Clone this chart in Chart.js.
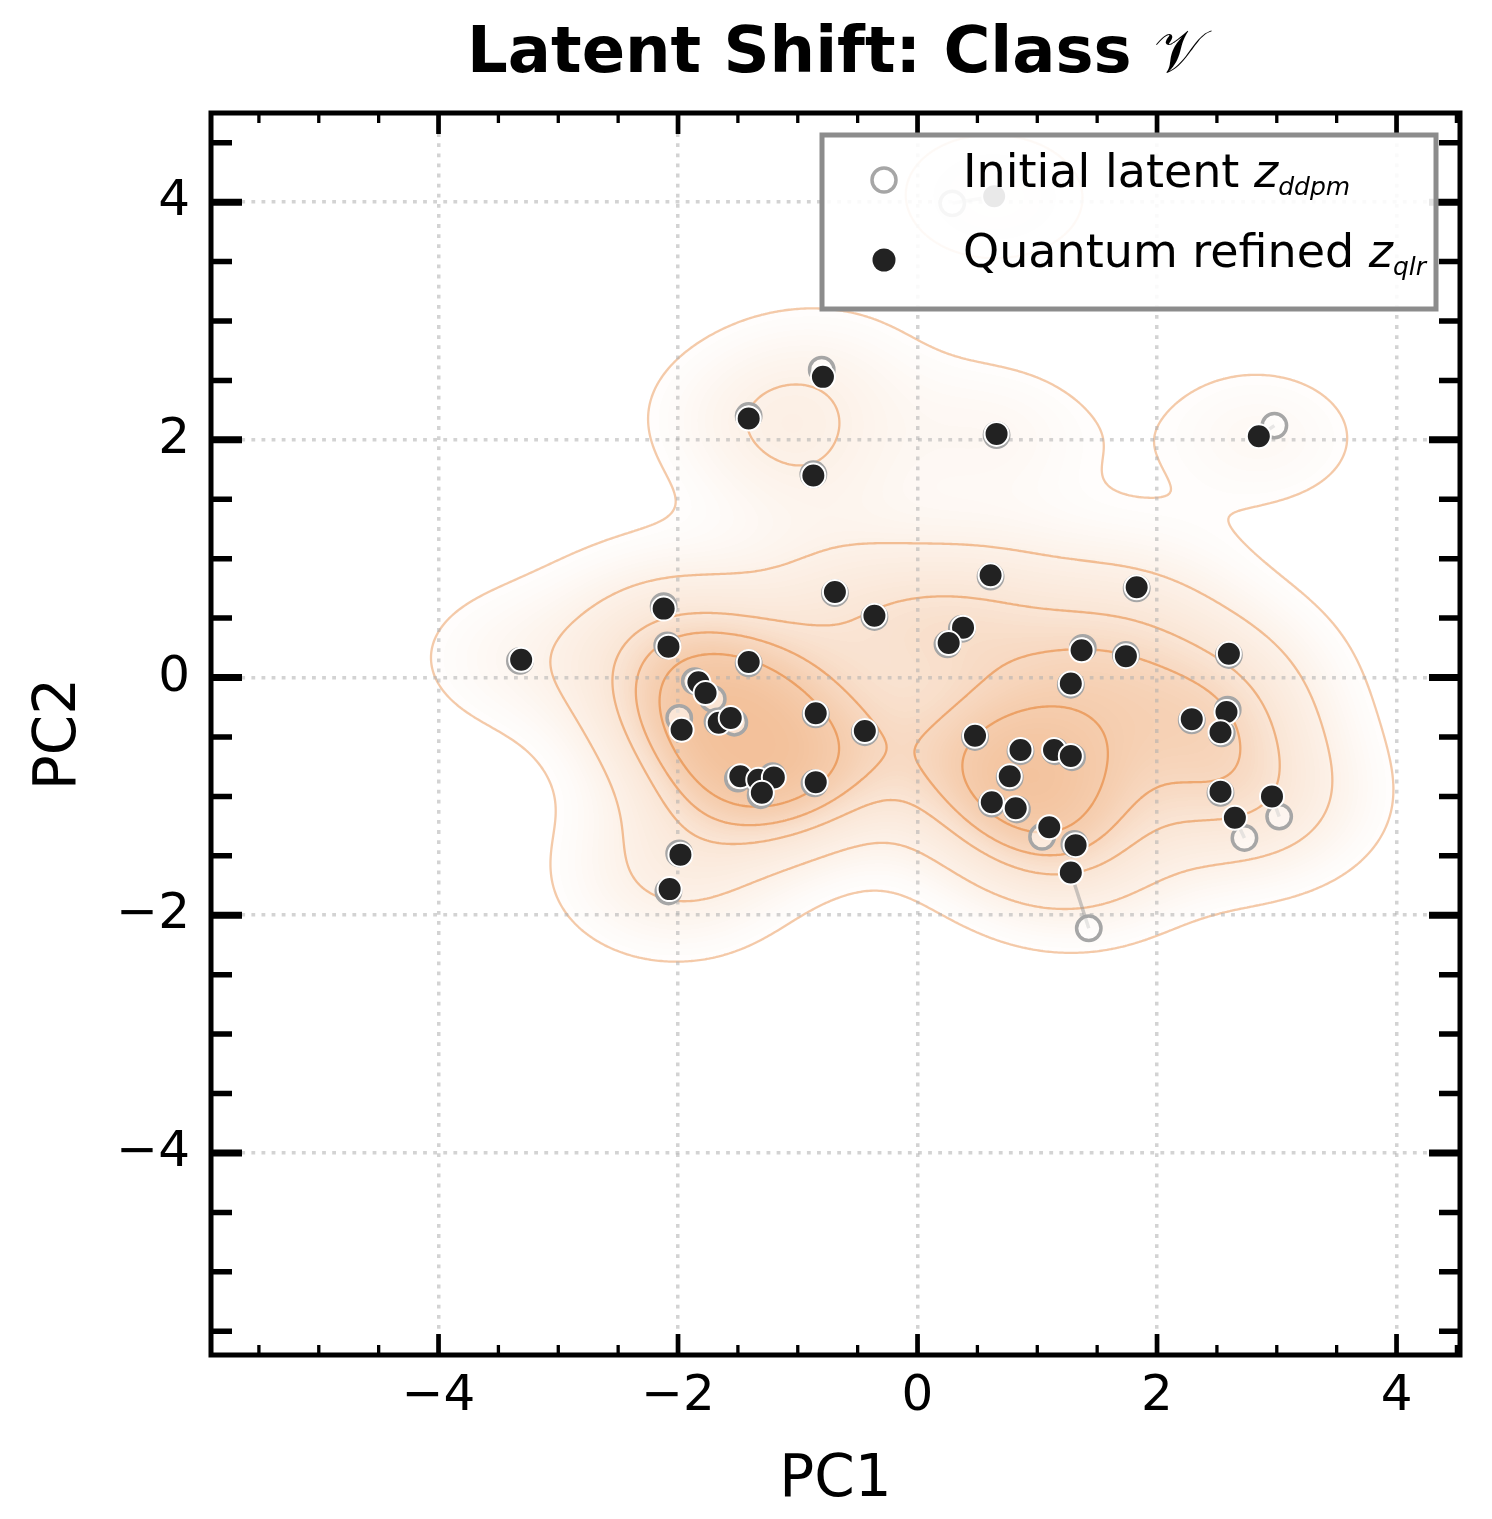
<!DOCTYPE html>
<html>
<head>
<meta charset="utf-8">
<script src="https://cdn.jsdelivr.net/npm/chart.js@4.4.1/dist/chart.umd.min.js"></script>
<style>
  html, body { margin: 0; padding: 0; background: #fff; }
  #wrap { width: 1492px; height: 1519px; position: relative; }
</style>
</head>
<body>
<div id="wrap"><canvas id="chart-shift"></canvas></div>
<script>
// initial latent (z_ddpm) and quantum refined (z_qlr) points, PC1 / PC2
const initX = [-3.32, -2.12, -2.09, -1.86, -1.71, -1.99, -1.67, -1.53, -1.41, -1.50,
               -1.33, -1.21, -1.31, -0.85, -0.86, -0.69, -0.36, -0.44, -1.41, -0.80,
               -0.87, -1.99, -2.08,  0.66,  2.98,  0.61,  0.37,  0.25,  1.38,  1.74,
                1.83,  1.28,  0.48,  0.86,  1.15,  1.29,  0.77,  0.62,  0.83,  1.04,
                1.31,  1.43,  2.29,  2.59,  2.54,  2.60,  2.53,  2.73,  3.02,  0.29];
const initY = [ 0.14,  0.60,  0.27, -0.03, -0.18, -0.34, -0.37, -0.38,  0.12, -0.85,
               -0.87, -0.83, -0.99, -0.31, -0.89,  0.71,  0.51, -0.46,  2.20,  2.59,
                1.71, -1.48, -1.80,  2.04,  2.12,  0.85,  0.41,  0.28,  0.25,  0.19,
                0.75, -0.06, -0.50, -0.62, -0.62, -0.67, -0.84, -1.06, -1.11, -1.34,
               -1.40, -2.11, -0.36, -0.27, -0.47,  0.19, -0.97, -1.35, -1.17,  3.99];
const refX  = [-3.31, -2.12, -2.08, -1.83, -1.77, -1.97, -1.66, -1.56, -1.41, -1.48,
               -1.33, -1.20, -1.30, -0.85, -0.85, -0.69, -0.36, -0.44, -1.41, -0.79,
               -0.87, -1.98, -2.07,  0.66,  2.85,  0.61,  0.38,  0.26,  1.37,  1.74,
                1.83,  1.28,  0.48,  0.86,  1.14,  1.28,  0.77,  0.62,  0.82,  1.10,
                1.32,  1.28,  2.29,  2.58,  2.53,  2.60,  2.53,  2.65,  2.96,  0.64];
const refY  = [ 0.15,  0.58,  0.26, -0.04, -0.13, -0.44, -0.38, -0.34,  0.13, -0.83,
               -0.86, -0.84, -0.97, -0.30, -0.88,  0.72,  0.52, -0.45,  2.18,  2.53,
                1.70, -1.49, -1.78,  2.05,  2.03,  0.86,  0.42,  0.29,  0.23,  0.18,
                0.76, -0.05, -0.49, -0.61, -0.61, -0.66, -0.83, -1.05, -1.10, -1.26,
               -1.41, -1.64, -0.35, -0.29, -0.46,  0.20, -0.96, -1.18, -1.00,  4.05];

const xMajor = [-4, -2, 0, 2, 4];
const yMajor = [-4, -2, 0, 2, 4];
const xMinor = [-5.5, -5, -4.5, -3.5, -3, -2.5, -1.5, -1, -0.5, 0.5, 1, 1.5, 2.5, 3, 3.5, 4.5];
const yMinor = [4.5, 3.5, 3, 2.5, 1.5, 1, 0.5, -0.5, -1, -1.5, -2.5, -3, -3.5, -4.5, -5, -5.5];

const titleText  = 'Latent Shift: Class ';
const titleClass = '\u{1D4B1}';
const legendRows = [
  { label: 'Initial latent ',   sub: 'ddpm' },
  { label: 'Quantum refined ',  sub: 'qlr' },
];

// density levels (iso-proportions), as in a seaborn kdeplot
const kdeThresh   = 0.05;
const lineLevels  = [0.05, 0.24, 0.43, 0.62, 0.81];
const fillBands   = 60;
const bwAdjust    = 0.72;

const FONT = '"DejaVu Sans", sans-serif';
const fmtTick = v => (v < 0 ? '\u2212' : '') + Math.abs(v);

const initPts  = initX.map((x, i) => ({ x, y: initY[i] }));
const refPts   = refX.map((x, i) => ({ x, y: refY[i] }));
const shiftPts = [];
initX.forEach((x, i) => {
  shiftPts.push({ x, y: initY[i] }, { x: refX[i], y: refY[i] }, { x: refX[i], y: null });
});

function buildKde(chart) {
  const a = chart.chartArea, xs = chart.scales.x, ys = chart.scales.y;
  const W = Math.round(a.right - a.left), H = Math.round(a.bottom - a.top);
  const step = 2;
  const gw = Math.ceil(W / step) + 1, gh = Math.ceil(H / step) + 1;

  const n = refX.length;
  const mx = refX.reduce((s, v) => s + v, 0) / n;
  const my = refY.reduce((s, v) => s + v, 0) / n;
  let sxx = 0, syy = 0, sxy = 0;
  for (let k = 0; k < n; k++) {
    sxx += (refX[k] - mx) ** 2; syy += (refY[k] - my) ** 2; sxy += (refX[k] - mx) * (refY[k] - my);
  }
  sxx /= n - 1; syy /= n - 1; sxy /= n - 1;
  const f2 = (Math.pow(n, -1 / 6) * bwAdjust) ** 2;
  const c11 = sxx * f2, c22 = syy * f2, c12 = sxy * f2;
  const det = c11 * c22 - c12 * c12;
  const i11 = c22 / det, i22 = c11 / det, i12 = -c12 / det;

  const dens = new Float64Array(gw * gh);
  for (let j = 0; j < gh; j++) {
    const vy = ys.getValueForPixel(a.top + j * step);
    for (let i = 0; i < gw; i++) {
      const vx = xs.getValueForPixel(a.left + i * step);
      let s = 0;
      for (let k = 0; k < n; k++) {
        const dx = vx - refX[k], dy = vy - refY[k];
        s += Math.exp(-0.5 * (i11 * dx * dx + 2 * i12 * dx * dy + i22 * dy * dy));
      }
      dens[j * gw + i] = s;
    }
  }

  // mass below each density value -> iso-proportion
  const sorted = Float64Array.from(dens).sort();
  const cum = new Float64Array(sorted.length);
  let acc = 0;
  for (let k = 0; k < sorted.length; k++) { acc += sorted[k]; cum[k] = acc; }
  const total = acc;
  const propOf = d => {
    let lo = 0, hi = sorted.length - 1;
    while (lo < hi) { const mid = (lo + hi) >> 1; if (sorted[mid] < d) lo = mid + 1; else hi = mid; }
    return lo > 0 ? cum[lo - 1] / total : 0;
  };
  const levelOf = q => {
    let lo = 0, hi = cum.length - 1;
    while (lo < hi) { const mid = (lo + hi) >> 1; if (cum[mid] / total < q) lo = mid + 1; else hi = mid; }
    return sorted[lo];
  };
  const prop = new Float32Array(dens.length);
  for (let k = 0; k < dens.length; k++) prop[k] = propOf(dens[k]);

  const off = document.createElement('canvas');
  off.width = W; off.height = H;
  const octx = off.getContext('2d');
  const img = octx.createImageData(W, H);
  const px = img.data;
  for (let y = 0; y < H; y++) {
    const gy = y / step, j0 = Math.min(gh - 2, Math.floor(gy)), fy = gy - j0;
    for (let x = 0; x < W; x++) {
      const gx = x / step, i0 = Math.min(gw - 2, Math.floor(gx)), fx = gx - i0;
      const p00 = prop[j0 * gw + i0], p10 = prop[j0 * gw + i0 + 1];
      const p01 = prop[(j0 + 1) * gw + i0], p11 = prop[(j0 + 1) * gw + i0 + 1];
      const p = (p00 * (1 - fx) + p10 * fx) * (1 - fy) + (p01 * (1 - fx) + p11 * fx) * fy;
      if (p < kdeThresh) continue;
      const band = Math.floor((p - kdeThresh) / (1 - kdeThresh) * fillBands);
      const t = Math.min(1, band / (fillBands - 1));
      const o = (y * W + x) * 4;
      px[o] = 236; px[o + 1] = 158; px[o + 2] = 98;
      px[o + 3] = Math.round(255 * (0.02 + 0.62 * t));
    }
  }
  octx.putImageData(img, 0, 0);

  // contour lines (marching squares on the density grid)
  octx.lineCap = 'round';
  octx.lineJoin = 'round';
  lineLevels.forEach((q, li) => {
    const L = levelOf(q);
    const t = li / (lineLevels.length - 1);
    octx.strokeStyle = `rgba(234,150,84,${0.5 + 0.3 * t})`;
    octx.lineWidth = 2.3;
    octx.beginPath();
    const seg = (p, r) => { octx.moveTo(p[0], p[1]); octx.lineTo(r[0], r[1]); };
    for (let j = 0; j < gh - 1; j++) {
      for (let i = 0; i < gw - 1; i++) {
        const va = dens[j * gw + i], vb = dens[j * gw + i + 1];
        const vc = dens[(j + 1) * gw + i + 1], vd = dens[(j + 1) * gw + i];
        const idx = (va > L ? 8 : 0) | (vb > L ? 4 : 0) | (vc > L ? 2 : 0) | (vd > L ? 1 : 0);
        if (idx === 0 || idx === 15) continue;
        const x0 = i * step, y0 = j * step;
        const top = [x0 + step * (L - va) / (vb - va), y0];
        const right = [x0 + step, y0 + step * (L - vb) / (vc - vb)];
        const bottom = [x0 + step * (L - vd) / (vc - vd), y0 + step];
        const left = [x0, y0 + step * (L - va) / (vd - va)];
        switch (idx) {
          case 1: case 14: seg(left, bottom); break;
          case 2: case 13: seg(bottom, right); break;
          case 3: case 12: seg(left, right); break;
          case 4: case 11: seg(top, right); break;
          case 5: seg(left, top); seg(bottom, right); break;
          case 6: case 9: seg(top, bottom); break;
          case 7: case 8: seg(left, top); break;
          case 10: seg(left, bottom); seg(top, right); break;
        }
      }
    }
    octx.stroke();
  });
  return off;
}

const kdePlugin = {
  id: 'kdeBackground',
  beforeDraw(chart) {
    if (!chart.$kde) chart.$kde = buildKde(chart);
    const a = chart.chartArea;
    chart.ctx.drawImage(chart.$kde, a.left, a.top);
  },
};

function tickMarks(ctx, scale, vals, horiz, len, width, a) {
  ctx.lineWidth = width;
  ctx.beginPath();
  vals.forEach(v => {
    const p = scale.getPixelForValue(v);
    if (horiz) {
      ctx.moveTo(p, a.bottom); ctx.lineTo(p, a.bottom - len);
      ctx.moveTo(p, a.top);    ctx.lineTo(p, a.top + len);
    } else {
      ctx.moveTo(a.left, p);  ctx.lineTo(a.left + len, p);
      ctx.moveTo(a.right, p); ctx.lineTo(a.right - len, p);
    }
  });
  ctx.stroke();
}

const framePlugin = {
  id: 'frameAndText',
  afterDraw(chart) {
    const { ctx, chartArea: a, scales: { x, y } } = chart;
    ctx.save();
    ctx.strokeStyle = '#000';
    ctx.lineCap = 'butt';
    tickMarks(ctx, x, xMajor, true, 21, 4.7, a);
    tickMarks(ctx, x, xMinor, true, 10, 3.3, a);
    tickMarks(ctx, y, yMajor, false, 31, 7, a);
    tickMarks(ctx, y, yMinor, false, 21, 5.5, a);
    ctx.lineWidth = 5;
    ctx.lineJoin = 'miter';
    ctx.strokeRect(a.left, a.top, a.right - a.left, a.bottom - a.top);

    // title
    const cx = (a.left + a.right) / 2;
    ctx.fillStyle = '#000';
    ctx.textBaseline = 'alphabetic';
    ctx.font = `bold 64px ${FONT}`;
    const w1 = ctx.measureText(titleText).width;
    ctx.font = `60px ${FONT}`;
    const w2 = ctx.measureText(titleClass).width;
    const tx = cx - (w1 + w2) / 2;
    ctx.textAlign = 'left';
    ctx.font = `bold 64px ${FONT}`;
    ctx.fillText(titleText, tx, 72);
    ctx.font = `60px ${FONT}`;
    ctx.fillText(titleClass, tx + w1, 72);

    // axis titles
    ctx.font = `58px ${FONT}`;
    ctx.textAlign = 'center';
    ctx.fillText('PC1', cx, 1496);
    ctx.save();
    ctx.translate(75, (a.top + a.bottom) / 2);
    ctx.rotate(-Math.PI / 2);
    ctx.fillText('PC2', 0, 0);
    ctx.restore();

    // legend
    const lx = a.right - 24, lTop = a.top + 22;
    const boxL = 822, boxW = lx - boxL, boxH = 174;
    ctx.fillStyle = 'rgba(255,255,255,0.9)';
    ctx.fillRect(boxL, lTop, boxW, boxH);
    ctx.strokeStyle = '#8c8c8c';
    ctx.lineWidth = 5;
    ctx.strokeRect(boxL, lTop, boxW, boxH);

    const rowY = [lTop + 45, lTop + 125];
    ctx.beginPath();
    ctx.arc(884, rowY[0], 12, 0, Math.PI * 2);
    ctx.fillStyle = '#fff';
    ctx.fill();
    ctx.strokeStyle = '#a6a6a6';
    ctx.lineWidth = 3.5;
    ctx.stroke();
    ctx.beginPath();
    ctx.arc(884, rowY[1], 11.5, 0, Math.PI * 2);
    ctx.fillStyle = '#222';
    ctx.fill();

    ctx.fillStyle = '#000';
    ctx.textAlign = 'left';
    legendRows.forEach((r, i) => {
      const by = rowY[i] + 7;
      ctx.font = `46px ${FONT}`;
      ctx.fillText(r.label, 963, by);
      let zx = 963 + ctx.measureText(r.label).width;
      ctx.font = `italic 46px ${FONT}`;
      ctx.fillText('z', zx, by);
      zx += ctx.measureText('z').width;
      ctx.font = `italic 25px ${FONT}`;
      ctx.fillText(r.sub, zx, by + 8);
    });
    ctx.restore();
  },
};

const gridStyle = { color: 'rgba(175,175,175,0.55)', lineWidth: 3.5, drawTicks: false };
const tickFont = { family: FONT, size: 50 };

new Chart(document.getElementById('chart-shift').getContext('2d'), {
  type: 'scatter',
  data: {
    datasets: [
      {
        label: 'Quantum refined',
        data: refPts,
        pointRadius: 12,
        pointHoverRadius: 12,
        borderWidth: 2,
        borderColor: '#ffffff',
        backgroundColor: '#222222',
        order: 1,
      },
      {
        label: 'Initial latent',
        data: initPts,
        pointRadius: 12.2,
        pointHoverRadius: 12.2,
        borderWidth: 3.5,
        borderColor: '#a6a6a6',
        backgroundColor: 'rgba(255,255,255,0.55)',
        order: 2,
      },
      {
        label: 'shift',
        data: shiftPts,
        showLine: true,
        spanGaps: false,
        pointRadius: 0,
        borderColor: 'rgba(150,150,150,0.5)',
        borderWidth: 3.5,
        order: 3,
      },
    ],
  },
  options: {
    responsive: true,
    maintainAspectRatio: false,
    animation: false,
    devicePixelRatio: 1,
    events: [],
    layout: { padding: { top: 113, right: 32, left: 0, bottom: 0 } },
    plugins: { legend: { display: false }, tooltip: { enabled: false } },
    scales: {
      x: {
        type: 'linear',
        min: -5.9,
        max: 4.53,
        afterBuildTicks: s => { s.ticks = xMajor.map(v => ({ value: v })); },
        afterFit: s => { s.height = 164; },
        grid: gridStyle,
        border: { display: false, dash: [3.8, 6.3] },
        ticks: { font: tickFont, color: '#000', padding: 12, maxRotation: 0, autoSkip: false, callback: fmtTick },
      },
      y: {
        type: 'linear',
        min: -5.7,
        max: 4.75,
        afterBuildTicks: s => { s.ticks = yMajor.map(v => ({ value: v })); },
        afterFit: s => { s.width = 211; },
        grid: gridStyle,
        border: { display: false, dash: [3.8, 6.3] },
        ticks: { font: tickFont, color: '#000', padding: 21, autoSkip: false, callback: fmtTick },
      },
    },
  },
  plugins: [kdePlugin, framePlugin],
});
</script>
</body>
</html>
